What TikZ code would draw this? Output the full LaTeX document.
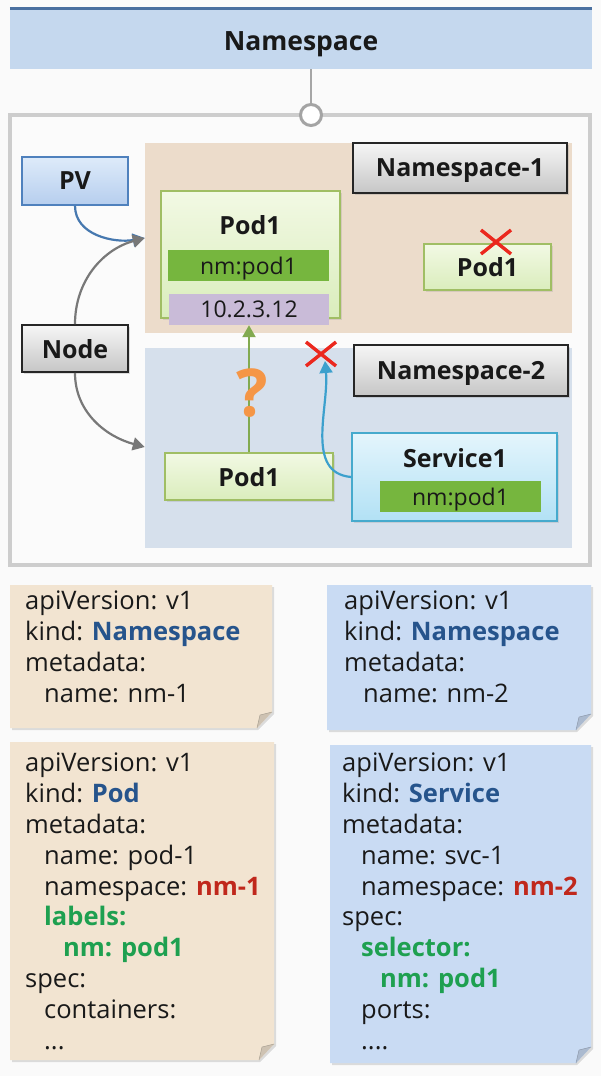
\documentclass[tikz,border=0pt]{standalone}
\usepackage{fontspec}
\setmainfont{Open Sans}
\usetikzlibrary{arrows.meta,shadows}
\definecolor{bgcol}{RGB}{250,250,250}
\definecolor{titlefill}{RGB}{197,216,238}
\definecolor{titleline}{RGB}{74,112,160}
\definecolor{framecol}{RGB}{205,205,205}
\definecolor{nsone}{RGB}{236,220,203}
\definecolor{nstwo}{RGB}{214,224,236}
\definecolor{cardbeige}{RGB}{242,228,209}
\definecolor{cardblue}{RGB}{201,219,243}
\definecolor{pvtop}{RGB}{222,235,250}
\definecolor{pvbot}{RGB}{182,206,238}
\definecolor{pvedge}{RGB}{79,129,189}
\definecolor{greytop}{RGB}{246,246,246}
\definecolor{greybot}{RGB}{198,198,198}
\definecolor{podtop}{RGB}{242,249,228}
\definecolor{podbot}{RGB}{218,237,188}
\definecolor{podedge}{RGB}{160,190,100}
\definecolor{svctop}{RGB}{228,245,252}
\definecolor{svcbot}{RGB}{178,225,245}
\definecolor{svcedge}{RGB}{70,170,205}
\definecolor{labgreen}{RGB}{118,182,62}
\definecolor{iplav}{RGB}{201,187,216}
\definecolor{txt}{RGB}{25,25,25}
\definecolor{kindblue}{RGB}{38,84,140}
\definecolor{nmred}{RGB}{192,40,28}
\definecolor{lblgreen}{RGB}{30,160,80}
\definecolor{arrgrey}{RGB}{120,120,120}
\definecolor{arrblue}{RGB}{70,120,175}
\definecolor{arrgreen}{RGB}{130,170,80}
\definecolor{arrcyan}{RGB}{60,160,205}
\definecolor{qorange}{RGB}{245,150,70}
\definecolor{xred}{RGB}{235,40,30}
\tikzset{
  bigfont/.style={font=\fontsize{25}{30}\selectfont\bfseries, text depth=0pt},
  regfont/.style={font=\fontsize{23}{28}\selectfont, text depth=0pt},
  region/.style={inner sep=0pt, draw=none},
  pvbox/.style={top color=pvtop, bottom color=pvbot, draw=pvedge, line width=1.5pt, inner sep=0pt, bigfont, text=txt},
  greybox/.style={top color=greytop, bottom color=greybot, draw=black!85, line width=1.8pt, inner sep=0pt, bigfont, text=txt,
     drop shadow={opacity=0.25, shadow xshift=2pt, shadow yshift=-2pt}},
  podbox/.style={top color=podtop, bottom color=podbot, draw=podedge, line width=1.2pt, inner sep=0pt, bigfont, text=txt,
     drop shadow={opacity=0.2, shadow xshift=2pt, shadow yshift=-2pt}},
  svcbox/.style={top color=svctop, bottom color=svcbot, draw=svcedge, line width=1.8pt, inner sep=0pt,
     drop shadow={opacity=0.2, shadow xshift=2pt, shadow yshift=-2pt}},
  labbox/.style={fill=labgreen, inner sep=0pt, regfont, text=txt},
  ipbox/.style={fill=iplav, inner sep=0pt, regfont, text=txt},
  conn/.style={line width=2.2pt, -{Triangle[width=13pt,length=12pt]}},
  xmark/.style={draw=xred, line width=3.4pt},
  cardtext/.style={inner sep=0pt, align=left, anchor=north west, text=txt, font=\fontsize{25.5}{30.8}\selectfont},
}
\newcommand{\yamlcard}[5]{%
  \fill[black, opacity=0.12] (#1+2,#2+2) -- (#3+2,#2+2) -- (#3+2,#4-14) -- (#3-14,#4+2) -- (#1+2,#4+2) -- cycle;
  \fill[#5] (#1,#2) -- (#3,#2) -- (#3,#4-16) -- (#3-15,#4) -- (#1,#4) -- cycle;
  \fill[#5!85!black] (#3-15,#4) -- (#3-12,#4-13) -- (#3,#4-16) -- cycle;
  \draw[#5!70!black, line width=0.5pt] (#3-15,#4) -- (#3-12,#4-13) -- (#3,#4-16);
}
\begin{document}
\begin{tikzpicture}[x=1pt,y=-1pt]
\useasboundingbox (0,0) rectangle (601,1076);
\fill[bgcol] (0,0) rectangle (601,1076);

% title bar
\node[fill=titlefill, minimum width=582pt, minimum height=60pt, inner sep=0pt] (title) at (301,39) {};
\draw[titleline, line width=3pt] (title.north west) -- (title.north east);
\node[font=\fontsize{26.5}{30}\selectfont\bfseries, text=txt, text depth=0pt, inner sep=0pt] (titletxt) at (301,41) {Namespace};

% main frame
\node[draw=framecol, line width=4pt, fill=white!97!gray, minimum width=580pt, minimum height=450pt, inner sep=0pt] (frame) at (300,340) {};
\node[circle, draw=framecol!80!black, line width=3pt, fill=white, minimum size=21pt, inner sep=0pt] (hub) at (311,115) {};
\draw[gray!70, line width=1.2pt] (title.south -| hub) -- (hub.north);

% namespace regions
\node[region, fill=nsone, minimum width=427pt, minimum height=190pt] (nsa) at (358.5,238) {};
\node[region, fill=nstwo, minimum width=427pt, minimum height=200pt] (nsb) at (358.5,448) {};
\node[greybox, minimum width=214pt, minimum height=50pt] (nsalab) at (460,168) {Namespace-1};
\node[greybox, minimum width=214pt, minimum height=51pt] (nsblab) at (461,370.5) {Namespace-2};

% left boxes
\node[pvbox, minimum width=106pt, minimum height=48pt] (pv) at (75,181) {PV};
\node[greybox, minimum width=106pt, minimum height=47pt] (nodebox) at (75,348.5) {Node};

% pods in namespace-1
\node[podbox, minimum width=179pt, minimum height=127pt] (podbig) at (250.5,254.5) {};
\node[bigfont, text=txt, inner sep=0pt] (podbigtxt) at (250,225) {Pod1};
\node[labbox, minimum width=161pt, minimum height=31pt] (podlab) at (248.5,265.5) {nm:pod1};
\node[ipbox, minimum width=160pt, minimum height=31pt] (ip) at (249,309.5) {10.2.3.12};
\node[podbox, minimum width=127pt, minimum height=46pt] (podsmall) at (487.5,267) {Pod1};

% namespace-2
\node[podbox, minimum width=168pt, minimum height=47pt] (podtwo) at (249,476.5) {Pod1};
\node[svcbox, minimum width=205pt, minimum height=88pt] (svc) at (454.5,477) {};
\node[bigfont, text=txt, inner sep=0pt] (svctxt) at (455,458) {Service1};
\node[labbox, minimum width=161pt, minimum height=31pt] (svclab) at (460.5,496.5) {nm:pod1};

% connectors
\coordinate (tgtA) at (nsa.west |- 0,238);
\coordinate (tgtB) at (nsb.west |- 0,447);
\coordinate (tgtC) at (325,361);
\draw[conn, arrblue] (pv.south) to[out=-90, in=190] (tgtA);
\draw[conn, arrgrey] (nodebox.north) to[out=90, in=195] (tgtA);
\draw[conn, arrgrey] (nodebox.south) to[out=-90, in=165] (tgtB);
\draw[conn, arrgreen] (podtwo.north) -- (ip.south);
\draw[conn, arrcyan] (svc.west) to[out=175, in=-85] (tgtC);

% question mark
\node[text=qorange, font=\fontsize{66}{66}\selectfont\bfseries, inner sep=0pt] (qm) at (252,393) {?};

% red crosses
\coordinate (xa) at (496,242);
\coordinate (xb) at (321,354);
\draw[xmark] ([shift={(-15,-12)}]xa) -- ([shift={(15,12)}]xa);
\draw[xmark] ([shift={(-15,12)}]xa) -- ([shift={(15,-12)}]xa);
\draw[xmark] ([shift={(-15,-12)}]xb) -- ([shift={(15,12)}]xb);
\draw[xmark] ([shift={(-15,12)}]xb) -- ([shift={(15,-12)}]xb);

% cards
\yamlcard{10}{585}{272}{728}{cardbeige}
\yamlcard{327}{585}{591}{730}{cardblue}
\yamlcard{10}{742}{274}{1060}{cardbeige}
\yamlcard{330}{745}{591}{1063}{cardblue}

\node[cardtext] (tA) at (25,591) {apiVersion: v1\\
kind: {\bfseries\color{kindblue}Namespace}\\
metadata:\\
\hspace*{19pt}name: nm-1};
\node[cardtext] (tB) at (344,591) {apiVersion: v1\\
kind: {\bfseries\color{kindblue}Namespace}\\
metadata:\\
\hspace*{19pt}name: nm-2};
\node[cardtext] (tC) at (25,753) {apiVersion: v1\\
kind: {\bfseries\color{kindblue}Pod}\\
metadata:\\
\hspace*{19pt}name: pod-1\\
\hspace*{19pt}namespace: {\bfseries\color{nmred}nm-1}\\
\hspace*{19pt}{\bfseries\color{lblgreen}labels:}\\
\hspace*{38pt}{\bfseries\color{lblgreen}nm: pod1}\\
spec:\\
\hspace*{19pt}containers:\\
\hspace*{19pt}...};
\node[cardtext] (tD) at (342,753) {apiVersion: v1\\
kind: {\bfseries\color{kindblue}Service}\\
metadata:\\
\hspace*{19pt}name: svc-1\\
\hspace*{19pt}namespace: {\bfseries\color{nmred}nm-2}\\
spec:\\
\hspace*{19pt}{\bfseries\color{lblgreen}selector:}\\
\hspace*{38pt}{\bfseries\color{lblgreen}nm: pod1}\\
\hspace*{19pt}ports:\\
\hspace*{19pt}....};
\end{tikzpicture}
\end{document}
